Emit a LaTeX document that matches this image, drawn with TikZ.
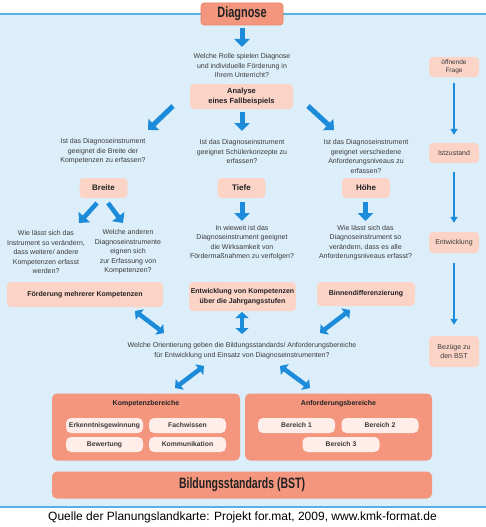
\documentclass[tikz,border=0pt]{standalone}
\usepackage{fontspec}
\setmainfont{Liberation Sans}
\usetikzlibrary{arrows.meta}
\definecolor{panelbg}{HTML}{DCEEF9}
\definecolor{panelline}{HTML}{5AAEE6}
\definecolor{salmon}{HTML}{F4957D}
\definecolor{salmonedge}{HTML}{E98468}
\definecolor{pinkbox}{HTML}{FBD3C7}
\definecolor{pill}{HTML}{FEEDE8}
\definecolor{arrowblue}{HTML}{1B8BDA}
\definecolor{txtgray}{HTML}{3A3A3A}
\definecolor{txtdark}{HTML}{222222}
\begin{document}
\begin{tikzpicture}[x=1pt,y=-1pt,
  qtext/.style={align=center, inner sep=0pt, text=txtgray, font=\fontsize{7}{9.5}\selectfont},
  pbox/.style={fill=pinkbox, rounded corners=4pt, inner sep=0pt, align=center, text=txtdark, font=\fontsize{7}{9.5}\selectfont\bfseries},
  sidebox/.style={fill=pinkbox, rounded corners=4pt, inner sep=0pt, align=center, text=txtgray, font=\fontsize{6.5}{8.5}\selectfont, minimum width=50pt},
  salbox/.style={fill=salmon, rounded corners=5pt, inner sep=0pt},
  pillbox/.style={fill=pill, rounded corners=5pt, inner sep=0pt, minimum width=77pt, minimum height=15pt, text=txtgray, font=\fontsize{6.8}{8}\selectfont\bfseries},
  bigarrow/.style={draw=arrowblue, line width=5pt, -{Triangle[length=8pt,width=15pt]}},
  dblarrow/.style={draw=arrowblue, line width=4.5pt, {Triangle[length=6pt,width=13pt]}-{Triangle[length=6pt,width=13pt]}},
  thinarrow/.style={draw=arrowblue, line width=2pt, -{Triangle[length=6pt,width=7pt]}}
]
\useasboundingbox (0,0) rectangle (486,527);
\fill[white] (0,0) rectangle (486,527);
\fill[panelbg] (0,14) rectangle (486,507);
\draw[panelline, line width=1.2pt] (0,14) -- (486,14);
\draw[panelline, line width=1.2pt] (0,507) -- (486,507);

% top
\node[salbox, draw=salmonedge, line width=0.6pt, minimum width=82pt, minimum height=22pt, rounded corners=3pt] (diag) at (242,14)
  {\fontsize{15}{15}\selectfont\bfseries\color{txtdark}\scalebox{0.73}[1]{Diagnose}};
\node[qtext] (q1) at (242,65.5) {Welche Rolle spielen Diagnose\\und individuelle Förderung in\\Ihrem Unterricht?};
\node[pbox, minimum width=103pt, minimum height=25pt, font=\fontsize{7.5}{9.5}\selectfont\bfseries] (analyse) at (241.5,96.5) {Analyse\\eines Fallbeispiels};

% questions row
\node[qtext] (qB) at (103,151.5) {Ist das Diagnoseinstrument\\geeignet die Breite der\\Kompetenzen zu erfassen?};
\node[qtext] (qT) at (242,151.5) {Ist das Diagnoseinstrument\\geeignet Schülerkonzepte zu\\erfassen?};
\node[qtext] (qH) at (366,156.5) {Ist das Diagnoseinstrument\\geeignet verschiedene\\Anforderungsniveaus zu\\erfassen?};

\node[pbox, minimum width=48pt, minimum height=20pt, font=\fontsize{8}{9}\selectfont\bfseries] (breite) at (103.5,188) {Breite};
\node[pbox, minimum width=48pt, minimum height=20pt, font=\fontsize{8}{9}\selectfont\bfseries] (tiefe) at (241.5,188) {Tiefe};
\node[pbox, minimum width=48pt, minimum height=20pt, font=\fontsize{8}{9}\selectfont\bfseries] (hoehe) at (366,188) {Höhe};

% second text row
\node[qtext] (l1) at (46,252) {Wie lässt sich das\\Instrument so verändern,\\dass weitere/ andere\\Kompetenzen erfasst\\werden?};
\node[qtext] (l2) at (128,252) {Welche anderen\\Diagnoseinstrumente\\eignen sich\\zur Erfassung von\\Kompetenzen?};
\node[qtext] (mt) at (242,242.5) {In wieweit ist das\\Diagnoseinstrument geeignet\\die Wirksamkeit von\\Fördermaßnahmen zu verfolgen?};
\node[qtext] (rt) at (365.5,242.5) {Wie lässt sich das\\Diagnoseinstrument so\\verändern, dass es alle\\Anforderungsniveaus erfasst?};

% result boxes
\node[pbox, minimum width=156pt, minimum height=25pt] (foerd) at (85,294.5) {Förderung mehrerer Kompetenzen};
\node[pbox, minimum width=107pt, minimum height=29pt] (entw) at (242.5,296.5) {Entwicklung von Kompetenzen\\über die Jahrgangsstufen};
\node[pbox, minimum width=98pt, minimum height=24pt] (binnen) at (366,294) {Binnendifferenzierung};

\node[qtext] (orient) at (242,350.5) {Welche Orientierung geben die Bildungsstandards/ Anforderungsbereiche\\für Entwicklung und Einsatz von Diagnoseinstrumenten?};

% bottom panels
\node[salbox, minimum width=188pt, minimum height=67pt] (kompP) at (146,427) {};
\node[inner sep=0pt, text=txtdark, font=\fontsize{7}{8}\selectfont\bfseries] (kompT) at (146,404) {Kompetenzbereiche};
\node[pillbox] (erk) at (104.5,425.5) {Erkenntnisgewinnung};
\node[pillbox] (fach) at (187.5,425.5) {Fachwissen};
\node[pillbox] (bew) at (104.5,444.5) {Bewertung};
\node[pillbox] (komm) at (187.5,444.5) {Kommunikation};

\node[salbox, minimum width=187pt, minimum height=67pt] (anfP) at (338.5,427) {};
\node[inner sep=0pt, text=txtdark, font=\fontsize{7}{8}\selectfont\bfseries] (anfT) at (338.5,404) {Anforderungsbereiche};
\node[pillbox] (b1) at (296.5,425.5) {Bereich 1};
\node[pillbox] (b2) at (380,425.5) {Bereich 2};
\node[pillbox] (b3) at (341,444.5) {Bereich 3};

\node[salbox, minimum width=380pt, minimum height=27pt] (bst) at (242,485)
  {\fontsize{15}{15}\selectfont\bfseries\color{txtdark}\scalebox{0.7}[1]{Bildungsstandards (BST)}};

% caption
\node[inner sep=0pt, font=\fontsize{12}{13}\selectfont] (cap) at (242.5,517.5) {Quelle der Planungslandkarte: Projekt for.mat, 2009, www.kmk-format.de};

% right column
\node[sidebox, minimum height=20pt] (frage) at (454,67) {öffnende\\Frage};
\node[sidebox, minimum height=20pt, font=\fontsize{7}{8.5}\selectfont] (ist) at (454,153) {Istzustand};
\node[sidebox, minimum height=21pt, font=\fontsize{7}{8.5}\selectfont] (entwr) at (454,242.5) {Entwicklung};
\node[sidebox, minimum height=31pt, font=\fontsize{7}{9}\selectfont] (bez) at (454,351.5) {Bezüge zu\\den BST};

\draw[thinarrow, shorten <=6pt, shorten >=8pt] (frage.south) -- (ist.north);
\draw[thinarrow, shorten <=9pt, shorten >=9pt] (ist.south) -- (entwr.north);
\draw[thinarrow, shorten <=10pt, shorten >=11pt] (entwr.south) -- (bez.north);

% arrow end coordinates
\coordinate (a1s) at (242,28);   \coordinate (a1e) at (242,47);
\coordinate (a2s) at (173,106);  \coordinate (a2e) at (148,130);
\coordinate (a3s) at (242,112);  \coordinate (a3e) at (242,131);
\coordinate (a4s) at (308,106);  \coordinate (a4e) at (334,130);
\coordinate (b1s) at (97,203);   \coordinate (b1e) at (79,223);
\coordinate (b2s) at (108,203);  \coordinate (b2e) at (123,223);
\coordinate (t1s) at (242,202);  \coordinate (t1e) at (242,221);
\coordinate (h1s) at (365.5,202);\coordinate (h1e) at (365.5,221);
\coordinate (d1s) at (135,311);  \coordinate (d1e) at (164,333);
\coordinate (d2s) at (242,312);  \coordinate (d2e) at (242,334);
\coordinate (d3s) at (350,310);  \coordinate (d3e) at (320,333);
\coordinate (d4s) at (204,366);  \coordinate (d4e) at (175,388);
\coordinate (d5s) at (280,366);  \coordinate (d5e) at (310,388);

\draw[bigarrow] (a1s) -- (a1e);
\draw[bigarrow] (a2s) -- (a2e);
\draw[bigarrow] (a3s) -- (a3e);
\draw[bigarrow] (a4s) -- (a4e);
\draw[bigarrow, line width=4.5pt] (b1s) -- (b1e);
\draw[bigarrow, line width=4.5pt] (b2s) -- (b2e);
\draw[bigarrow] (t1s) -- (t1e);
\draw[bigarrow] (h1s) -- (h1e);
\draw[dblarrow] (d1s) -- (d1e);
\draw[dblarrow] (d2s) -- (d2e);
\draw[dblarrow] (d3s) -- (d3e);
\draw[dblarrow] (d4s) -- (d4e);
\draw[dblarrow] (d5s) -- (d5e);
\end{tikzpicture}
\end{document}
